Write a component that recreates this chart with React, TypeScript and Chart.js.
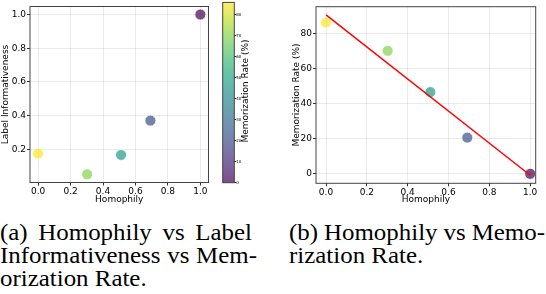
import React, { useEffect, useRef } from "react";
import { Chart, registerables } from "chart.js";
Chart.register(...registerables);

// ---- data ----
const HOMOPHILY = [0.0, 0.302, 0.511, 0.692, 1.0];
const LABEL_INFO = [0.175, 0.051, 0.166, 0.37, 1.0];
const MEM_RATE = [86, 70, 46.5, 20.6, 0];
const FIT_X = [0, 1];
const FIT_Y = [90.4, -0.8];
const X_TICKS = [0, 0.2, 0.4, 0.6, 0.8, 1.0];
const Y_TICKS_A = [0.2, 0.4, 0.6, 0.8, 1.0];
const Y_TICKS_B = [0, 20, 40, 60, 80];
const CBAR_TICKS = [0, 10, 20, 30, 40, 50, 60, 70, 80];
const CBAR_MIN = 0;
const CBAR_MAX = 86;

// ---- style helpers ----
const VIRIDIS = [
  "#440154", "#482475", "#414487", "#355f8d", "#2a788e",
  "#21918c", "#22a884", "#44bf70", "#7ad151", "#bddf26", "#fde725",
];
function hexRgb(h: string) {
  return [parseInt(h.slice(1, 3), 16), parseInt(h.slice(3, 5), 16), parseInt(h.slice(5, 7), 16)];
}
function viridis(t: number, a: number) {
  t = Math.max(0, Math.min(1, t));
  const p = t * 10;
  const i = Math.min(9, Math.floor(p));
  const f = p - i;
  const c0 = hexRgb(VIRIDIS[i]);
  const c1 = hexRgb(VIRIDIS[i + 1]);
  const c = c0.map((v, k) => Math.round(v + (c1[k] - v) * f));
  return `rgba(${c[0]},${c[1]},${c[2]},${a})`;
}
const norm = (v: number) => (v - CBAR_MIN) / (CBAR_MAX - CBAR_MIN);
const FONT = { family: "'DejaVu Sans'", size: 9 };
const GRID = { color: "rgba(0,0,0,0.08)", tickColor: "#333", tickLength: 3 };
const TXT = "#000";

const framePlugin = {
  id: "frame",
  afterDraw(chart: any) {
    const { ctx, chartArea: a } = chart;
    ctx.save();
    ctx.strokeStyle = "#444";
    ctx.lineWidth = 1;
    ctx.strokeRect(a.left, a.top, a.right - a.left, a.bottom - a.top);
    ctx.restore();
  },
};

const pointColors = MEM_RATE.map((v) => viridis(norm(v), 0.7));

function useChart(ref: any, cfg: () => any) {
  useEffect(() => {
    const c = new Chart(ref.current, cfg());
    return () => c.destroy();
  }, []);
}

export default function App() {
  const refA = useRef<HTMLCanvasElement>(null);
  const refC = useRef<HTMLCanvasElement>(null);
  const refB = useRef<HTMLCanvasElement>(null);

  useChart(refA, () => ({
    type: "scatter",
    data: {
      datasets: [
        {
          data: HOMOPHILY.map((x, i) => ({ x, y: LABEL_INFO[i] })),
          pointBackgroundColor: pointColors,
          pointBorderColor: "rgba(255,255,255,0.8)",
          pointBorderWidth: 1,
          pointRadius: 5.5,
        },
      ],
    },
    options: {
      animation: false,
      responsive: false,
      layout: { padding: { left: 0, top: 2, right: 2.7, bottom: 0 } },
      plugins: { legend: { display: false }, tooltip: { enabled: false } },
      scales: {
        x: {
          type: "linear",
          min: -0.05,
          max: 1.05,
          afterBuildTicks: (s: any) => { s.ticks = X_TICKS.map((value) => ({ value })); },
          afterFit: (s: any) => { s.height = 23.5; },
          ticks: { font: FONT, color: TXT, padding: 1, maxRotation: 0, autoSkip: false, callback: (v: any) => Number(v).toFixed(1) },
          grid: GRID,
          border: { display: false },
          title: { display: true, text: "Homophily", font: FONT, color: TXT, padding: { top: 0, bottom: 0.6 } },
        },
        y: {
          type: "linear",
          min: 0.0025,
          max: 1.0475,
          afterBuildTicks: (s: any) => { s.ticks = Y_TICKS_A.map((value) => ({ value })); },
          afterFit: (s: any) => { s.width = 30; },
          ticks: { font: FONT, color: TXT, padding: 1, autoSkip: false, callback: (v: any) => Number(v).toFixed(1) },
          grid: GRID,
          border: { display: false },
          title: { display: true, text: "Label Informativeness", font: FONT, color: TXT, padding: { top: 0, bottom: 0 } },
        },
      },
    },
    plugins: [framePlugin],
  }));

  useChart(refC, () => ({
    type: "scatter",
    data: { datasets: [] },
    options: {
      animation: false,
      responsive: false,
      layout: { padding: { left: 7.7, top: 1, right: 0, bottom: 23.3 } },
      plugins: { legend: { display: false }, tooltip: { enabled: false } },
      scales: {
        x: { type: "linear", display: false, min: 0, max: 1 },
        y: {
          type: "linear",
          position: "right",
          min: CBAR_MIN,
          max: CBAR_MAX,
          afterBuildTicks: (s: any) => { s.ticks = CBAR_TICKS.map((value) => ({ value })); },
          afterFit: (s: any) => { s.width = 35.7; },
          ticks: { font: { family: "'DejaVu Sans'", size: 4 }, color: TXT, padding: 0, autoSkip: false },
          grid: { drawOnChartArea: false, tickColor: "#333", tickLength: 2 },
          border: { display: false },
        },
      },
    },
    plugins: [
      {
        id: "cbar",
        beforeDatasetsDraw(chart: any) {
          const { ctx, chartArea: a } = chart;
          const g = ctx.createLinearGradient(0, a.bottom, 0, a.top);
          for (let i = 0; i <= 20; i++) g.addColorStop(i / 20, viridis(i / 20, 0.7));
          ctx.save();
          ctx.fillStyle = g;
          ctx.fillRect(a.left, a.top, a.right - a.left, a.bottom - a.top);
          ctx.restore();
        },
        afterDraw(chart: any) {
          const { ctx } = chart;
          ctx.save();
          ctx.translate(31, 91);
          ctx.rotate(-Math.PI / 2);
          ctx.font = "9px 'DejaVu Sans'";
          ctx.fillStyle = TXT;
          ctx.textAlign = "center";
          ctx.textBaseline = "middle";
          ctx.fillText("Memorization Rate (%)", 0, 0);
          ctx.restore();
        },
      },
      framePlugin,
    ],
  }));

  useChart(refB, () => ({
    type: "scatter",
    data: {
      datasets: [
        {
          type: "line",
          data: FIT_X.map((x, i) => ({ x, y: FIT_Y[i] })),
          borderColor: "#ff0000",
          borderWidth: 1.5,
          pointRadius: 0,
          fill: false,
          order: 0,
        },
        {
          type: "scatter",
          data: HOMOPHILY.map((x, i) => ({ x, y: MEM_RATE[i] })),
          pointBackgroundColor: pointColors,
          pointBorderColor: "rgba(255,255,255,0.8)",
          pointBorderWidth: 1,
          pointRadius: 5.5,
          order: 1,
        },
      ],
    },
    options: {
      animation: false,
      responsive: false,
      layout: { padding: { left: 0, top: 6.7, right: 10.3, bottom: 0 } },
      plugins: { legend: { display: false }, tooltip: { enabled: false } },
      scales: {
        x: {
          type: "linear",
          min: -0.049,
          max: 1.027,
          afterBuildTicks: (s: any) => { s.ticks = X_TICKS.map((value) => ({ value })); },
          afterFit: (s: any) => { s.height = 22.7; },
          ticks: { font: FONT, color: TXT, padding: 1, maxRotation: 0, autoSkip: false, callback: (v: any) => Number(v).toFixed(1) },
          grid: GRID,
          border: { display: false },
          title: { display: true, text: "Homophily", font: FONT, color: TXT, padding: { top: 0, bottom: 0.6 } },
        },
        y: {
          type: "linear",
          min: -5.4,
          max: 95.1,
          afterBuildTicks: (s: any) => { s.ticks = Y_TICKS_B.map((value) => ({ value })); },
          afterFit: (s: any) => { s.width = 46; },
          ticks: { font: FONT, color: TXT, padding: 1, autoSkip: false },
          grid: GRID,
          border: { display: false },
          title: { display: true, text: "Memorization Rate (%)", font: FONT, color: TXT, padding: { top: 21.3, bottom: 0 } },
        },
      },
    },
    plugins: [framePlugin],
  }));

  const SX = 1.06;
  const cap: React.CSSProperties = {
    position: "absolute",
    fontFamily: "'Liberation Serif', 'Times New Roman', serif",
    fontSize: "23.5px",
    lineHeight: "23.3px",
    color: "#000",
    whiteSpace: "nowrap",
    transform: `scaleX(${SX})`,
    transformOrigin: "0 0",
  };
  const Just = ({ words, left, top, width }: { words: string[]; left: number; top: number; width: number }) => (
    <div style={{ ...cap, left, top, width: width / SX, display: "flex", justifyContent: "space-between" }}>
      {words.map((w, i) => (
        <span key={i}>{w}</span>
      ))}
    </div>
  );

  return (
    <div style={{ position: "fixed", left: 0, top: 0, width: 546, height: 294, background: "#fff", overflow: "hidden" }}>
      <canvas ref={refA} width={215} height={206} style={{ position: "absolute", left: 0, top: 0, width: 215, height: 206 }} />
      <canvas ref={refC} width={55} height={206} style={{ position: "absolute", left: 215, top: 0, width: 55, height: 206 }} />
      <canvas ref={refB} width={276} height={206} style={{ position: "absolute", left: 270, top: 0, width: 276, height: 206 }} />
      <Just words={["(a)", "Homophily", "vs", "Label"]} left={0} top={220.5} width={252} />
      <Just words={["Informativeness", "vs", "Mem-"]} left={0} top={243.9} width={257} />
      <div style={{ ...cap, left: 0, top: 267.2 }}>orization Rate.</div>
      <Just words={["(b)", "Homophily", "vs", "Memo-"]} left={289} top={220.5} width={256} />
      <div style={{ ...cap, left: 289, top: 243.9 }}>rization Rate.</div>
    </div>
  );
}
